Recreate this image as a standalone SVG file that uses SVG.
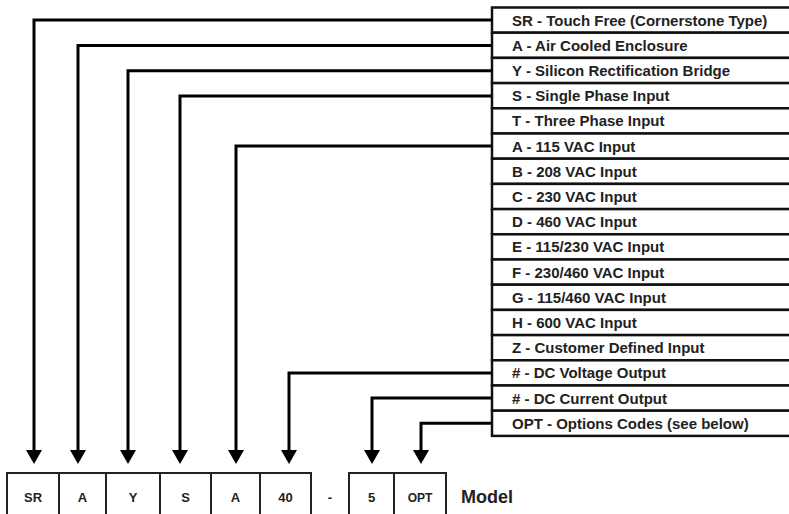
<svg xmlns="http://www.w3.org/2000/svg" width="789" height="514" viewBox="0 0 789 514">
<style>
.row{fill:#fff;stroke:#111;stroke-width:2.5}
.rt{font-family:"Liberation Sans",Arial,sans-serif;font-weight:bold;font-size:15px;fill:#222}
.conn{fill:none;stroke:#000;stroke-width:3}
.box{fill:#fff;stroke:#222;stroke-width:2}
.bt{font-family:"Liberation Sans",Arial,sans-serif;font-weight:bold;font-size:13px;fill:#222;text-anchor:middle}
</style>
<defs>
<marker id="ah" viewBox="0 0 14 16" refX="0" refY="8" markerWidth="14" markerHeight="16" markerUnits="userSpaceOnUse" orient="auto">
<path d="M0,0 L14,8 L0,16 Z" fill="#000"/>
</marker>
</defs>
<g id="legend">
<g id="row0"><rect class="row" x="492" y="7.5" width="300" height="25.2"/><text class="rt" x="512" y="25.5">SR - Touch Free (Cornerstone Type)</text></g>
<g id="row1"><rect class="row" x="492" y="32.7" width="300" height="25.2"/><text class="rt" x="512" y="50.7">A - Air Cooled Enclosure</text></g>
<g id="row2"><rect class="row" x="492" y="57.9" width="300" height="25.2"/><text class="rt" x="512" y="75.9">Y - Silicon Rectification Bridge</text></g>
<g id="row3"><rect class="row" x="492" y="83.1" width="300" height="25.2"/><text class="rt" x="512" y="101.1">S - Single Phase Input</text></g>
<g id="row4"><rect class="row" x="492" y="108.3" width="300" height="25.2"/><text class="rt" x="512" y="126.3">T - Three Phase Input</text></g>
<g id="row5"><rect class="row" x="492" y="133.5" width="300" height="25.2"/><text class="rt" x="512" y="151.5">A - 115 VAC Input</text></g>
<g id="row6"><rect class="row" x="492" y="158.7" width="300" height="25.2"/><text class="rt" x="512" y="176.7">B - 208 VAC Input</text></g>
<g id="row7"><rect class="row" x="492" y="183.9" width="300" height="25.2"/><text class="rt" x="512" y="201.9">C - 230 VAC Input</text></g>
<g id="row8"><rect class="row" x="492" y="209.1" width="300" height="25.2"/><text class="rt" x="512" y="227.1">D - 460 VAC Input</text></g>
<g id="row9"><rect class="row" x="492" y="234.3" width="300" height="25.2"/><text class="rt" x="512" y="252.3">E - 115/230 VAC Input</text></g>
<g id="row10"><rect class="row" x="492" y="259.5" width="300" height="25.2"/><text class="rt" x="512" y="277.5">F - 230/460 VAC Input</text></g>
<g id="row11"><rect class="row" x="492" y="284.7" width="300" height="25.2"/><text class="rt" x="512" y="302.7">G - 115/460 VAC Input</text></g>
<g id="row12"><rect class="row" x="492" y="309.9" width="300" height="25.2"/><text class="rt" x="512" y="327.9">H - 600 VAC Input</text></g>
<g id="row13"><rect class="row" x="492" y="335.1" width="300" height="25.2"/><text class="rt" x="512" y="353.1">Z - Customer Defined Input</text></g>
<g id="row14"><rect class="row" x="492" y="360.3" width="300" height="25.2"/><text class="rt" x="512" y="378.3"># - DC Voltage Output</text></g>
<g id="row15"><rect class="row" x="492" y="385.5" width="300" height="25.2"/><text class="rt" x="512" y="403.5"># - DC Current Output</text></g>
<g id="row16"><rect class="row" x="492" y="410.7" width="300" height="25.2"/><text class="rt" x="512" y="428.7">OPT - Options Codes (see below)</text></g>
</g>
<g id="connectors">
<path class="conn" d="M492,20 H34 V450" marker-end="url(#ah)"/>
<path class="conn" d="M492,45.5 H78 V450" marker-end="url(#ah)"/>
<path class="conn" d="M492,70.7 H128 V450" marker-end="url(#ah)"/>
<path class="conn" d="M492,95.9 H180 V450" marker-end="url(#ah)"/>
<path class="conn" d="M492,146.1 H236 V450" marker-end="url(#ah)"/>
<path class="conn" d="M492,372.9 H289 V450" marker-end="url(#ah)"/>
<path class="conn" d="M492,398.1 H372 V450" marker-end="url(#ah)"/>
<path class="conn" d="M492,423.3 H421 V450" marker-end="url(#ah)"/>
</g>
<g id="model">
<g id="b-sr"><rect class="box" x="7" y="473" width="52" height="50"/><text class="bt" x="33" y="502">SR</text></g>
<g id="b-a1"><rect class="box" x="59" y="473" width="47" height="50"/><text class="bt" x="82.5" y="502">A</text></g>
<g id="b-y"><rect class="box" x="106" y="473" width="54" height="50"/><text class="bt" x="133" y="502">Y</text></g>
<g id="b-s"><rect class="box" x="160" y="473" width="51" height="50"/><text class="bt" x="185.5" y="502">S</text></g>
<g id="b-a2"><rect class="box" x="211" y="473" width="49" height="50"/><text class="bt" x="235.5" y="502">A</text></g>
<g id="b-40"><rect class="box" x="260" y="473" width="51" height="50"/><text class="bt" x="285.5" y="502">40</text></g>
<text class="bt" x="330" y="502">-</text>
<g id="b-5"><rect class="box" x="349" y="473" width="45" height="50"/><text class="bt" x="371.5" y="502">5</text></g>
<g id="b-opt"><rect class="box" x="394" y="473" width="52" height="50"/><text class="bt" x="420" y="502" style="font-size:12px">OPT</text></g>
<text x="461" y="503" font-family="'Liberation Sans',Arial,sans-serif" font-weight="bold" font-size="18" fill="#222">Model</text>
</g>
</svg>
